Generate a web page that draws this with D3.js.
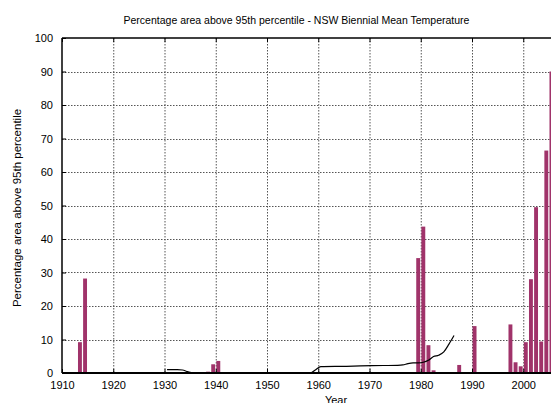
<!DOCTYPE html>
<html>
<head>
<meta charset="utf-8">
<script src="https://cdn.jsdelivr.net/npm/d3@7"></script>
<style>
  html, body { margin: 0; padding: 0; background: #fff; overflow: hidden; }
  svg { display: block; font-family: "Liberation Sans", Arial, sans-serif; }
</style>
</head>
<body>
<svg id="chart" width="551" height="403"></svg>
<script>
// Percentage of NSW area above the 95th percentile (biennial mean temperature)
const barYears  = [1913, 1914, 1938, 1939, 1940, 1979, 1980, 1981, 1982, 1987, 1990,
                   1997, 1998, 1999, 2000, 2001, 2002, 2003, 2004, 2005];
const barValues = [9.2, 28.2, 0.4, 2.6, 3.6, 34.3, 43.7, 8.3, 0.8, 2.4, 14.0,
                   14.5, 3.2, 2.0, 9.2, 28.0, 49.5, 9.4, 66.4, 90.0];

// Smoothed trend line
const lineYears  = [1930, 1931, 1932, 1933, 1934, 1935, 1936, 1940, 1950, 1958, 1959, 1960,
                    1965, 1970, 1975, 1976, 1977, 1978, 1979, 1980, 1981, 1982, 1983,
                    1984, 1985, 1986];
const lineValues = [1.0, 1.0, 1.0, 0.9, 0.4, 0.0, 0.0, 0.0, 0.0, 0.0, 1.0, 1.9,
                    2.0, 2.2, 2.3, 2.4, 2.8, 3.0, 3.0, 3.2, 3.8, 4.9, 5.3,
                    6.3, 8.6, 11.2];

const xTicks = [1910, 1920, 1930, 1940, 1950, 1960, 1970, 1980, 1990, 2000];
const yTicks = [0, 10, 20, 30, 40, 50, 60, 70, 80, 90, 100];

const titleText = "Percentage area above 95th percentile - NSW Biennial Mean Temperature";
const xLabel = "Year";
const yLabel = "Percentage area above 95th percentile";

const svg = d3.select("#chart");
const plotL = 62, plotR = 574.5, plotT = 38, plotB = 373;

const x = d3.scaleLinear().domain([1910, 2010]).range([plotL, plotR]);
const y = d3.scaleLinear().domain([0, 100]).range([plotB, plotT]);

// grid
const grid = svg.append("g");
grid.selectAll("line.gx").data(xTicks.slice(1)).join("line")
  .attr("x1", d => x(d) + 0.5).attr("x2", d => x(d) + 0.5)
  .attr("y1", plotT).attr("y2", plotB)
  .attr("stroke", "#555").attr("stroke-width", 1).attr("stroke-dasharray", "1.5,1.5");
grid.selectAll("line.gy").data(yTicks.slice(1, -1)).join("line")
  .attr("x1", plotL).attr("x2", plotR)
  .attr("y1", d => Math.round(y(d)) + 0.5).attr("y2", d => Math.round(y(d)) + 0.5)
  .attr("stroke", "#555").attr("stroke-width", 1).attr("stroke-dasharray", "1.5,1.5");

// bars
svg.append("g").selectAll("rect").data(barYears).join("rect")
  .attr("x", (d) => x(d + 0.12))
  .attr("width", x(1910.88) - x(1910.12))
  .attr("y", (d, i) => y(barValues[i]))
  .attr("height", (d, i) => y(0) - y(barValues[i]))
  .attr("fill", "#a0336a");

// trend line
const pts = lineYears.map((yr, i) => [yr + 0.5, lineValues[i]]);
svg.append("path")
  .attr("d", d3.line().x(d => x(d[0])).y(d => y(d[1])).curve(d3.curveMonotoneX)(pts))
  .attr("fill", "none").attr("stroke", "#000").attr("stroke-width", 1.2);

// frame
svg.append("line").attr("x1", plotL).attr("x2", plotR).attr("y1", plotT).attr("y2", plotT)
  .attr("stroke", "#000").attr("stroke-width", 1.5);
svg.append("line").attr("x1", plotL).attr("x2", plotR).attr("y1", plotB).attr("y2", plotB)
  .attr("stroke", "#000").attr("stroke-width", 2);
svg.append("line").attr("x1", plotL).attr("x2", plotL).attr("y1", plotT).attr("y2", plotB)
  .attr("stroke", "#000").attr("stroke-width", 1.5);

// axes
const xAxis = d3.axisBottom(x).tickValues(xTicks).tickFormat(d3.format("d"))
  .tickSize(-4).tickPadding(8);
const gx = svg.append("g").attr("transform", `translate(0,${plotB})`).call(xAxis);
gx.select(".domain").remove();
gx.selectAll("text").attr("font-size", 11).attr("fill", "#000").attr("font-family", "Liberation Sans, Arial, sans-serif");
gx.selectAll("line").attr("stroke", "#000");

const xTop = d3.axisTop(x).tickValues(xTicks).tickFormat("").tickSize(-4);
const gxt = svg.append("g").attr("transform", `translate(0,${plotT})`).call(xTop);
gxt.select(".domain").remove();
gxt.selectAll("line").attr("stroke", "#000");

const yAxis = d3.axisLeft(y).tickValues(yTicks).tickFormat(d3.format("d"))
  .tickSize(-4).tickPadding(9);
const gy = svg.append("g").attr("transform", `translate(${plotL},0)`).call(yAxis);
gy.select(".domain").remove();
gy.selectAll("text").attr("font-size", 11).attr("fill", "#000").attr("font-family", "Liberation Sans, Arial, sans-serif");
gy.selectAll("line").attr("stroke", "#000");

// labels
svg.append("text").attr("x", 296.5).attr("y", 24).attr("text-anchor", "middle")
  .attr("font-size", 10.5).text(titleText);
svg.append("text").attr("x", 336).attr("y", 404).attr("text-anchor", "middle")
  .attr("font-size", 11).text(xLabel);
svg.append("text").attr("transform", "translate(21,208) rotate(-90)")
  .attr("text-anchor", "middle").attr("font-size", 11.5).text(yLabel);
</script>
</body>
</html>
